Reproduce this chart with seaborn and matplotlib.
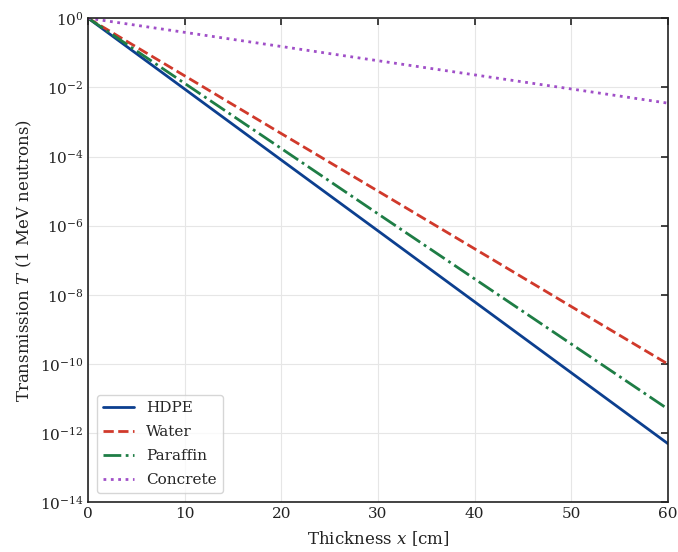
import matplotlib
matplotlib.use("Agg")
import matplotlib.pyplot as plt
import matplotlib.ticker as mticker
import pandas as pd
import seaborn as sns

# transmission at x = 0, 10, ..., 60 cm
thickness = [0, 10, 20, 30, 40, 50, 60]
hdpe = [1.0, 8.9e-3, 7.9e-5, 7.1e-7, 6.3e-9, 5.6e-11, 5.0e-13]
water = [1.0, 2.15e-2, 4.6e-4, 1.0e-5, 2.15e-7, 4.6e-9, 1.0e-10]
paraffin = [1.0, 1.3e-2, 1.7e-4, 2.2e-6, 2.9e-8, 3.8e-10, 5.0e-12]
concrete = [1.0, 0.39, 0.152, 0.059, 0.023, 0.009, 3.5e-3]

materials = ["HDPE", "Water", "Paraffin", "Concrete"]
colors = ["#0c3f8f", "#d0392b", "#1e7d45", "#a04fc8"]
styles = ["-", "--", "-.", ":"]

df = pd.concat(
    [
        pd.DataFrame({"x": thickness, "T": vals, "material": name})
        for name, vals in zip(materials, [hdpe, water, paraffin, concrete])
    ],
    ignore_index=True,
)

sns.set_theme(style="whitegrid")
plt.rcParams["font.family"] = ["DejaVu Serif"]
plt.rcParams["mathtext.fontset"] = "dejavuserif"

fig, ax = plt.subplots(figsize=(6.78, 5.52), dpi=100)
for name, c, ls in zip(materials, colors, styles):
    sub = df[df["material"] == name]
    sns.lineplot(data=sub, x="x", y="T", ax=ax, color=c, linestyle=ls, linewidth=2.0, label=name)

ax.set_yscale("log")
ax.set_xlim(0, 60)
ax.set_ylim(1e-14, 1)
ax.yaxis.set_major_locator(mticker.LogLocator(base=100))
ax.yaxis.set_minor_locator(mticker.NullLocator())
ax.set_xticks([0, 10, 20, 30, 40, 50, 60])

ax.set_facecolor("white")
ax.grid(True, color="#e6e6e6", linewidth=0.8)
for sp in ax.spines.values():
    sp.set_color("#222222")
    sp.set_linewidth(1.2)
ax.tick_params(direction="in", top=True, right=True, length=5, width=1.2,
               labelsize=11, colors="#222222", labelcolor="#222222")

ax.set_xlabel("Thickness $x$ [cm]", fontsize=12, color="#222222", labelpad=6)
ax.set_ylabel("Transmission $T$ (1 MeV neutrons)", fontsize=12, color="#222222")

leg = ax.legend(loc="lower left", fontsize=11, frameon=True, handlelength=2.0,
                labelspacing=0.65, borderaxespad=0.6)
leg.get_frame().set_edgecolor("#cccccc")
leg.get_frame().set_facecolor("white")

fig.subplots_adjust(left=0.13, right=0.985, top=0.967, bottom=0.09)
fig.savefig("out.png", dpi=100)
